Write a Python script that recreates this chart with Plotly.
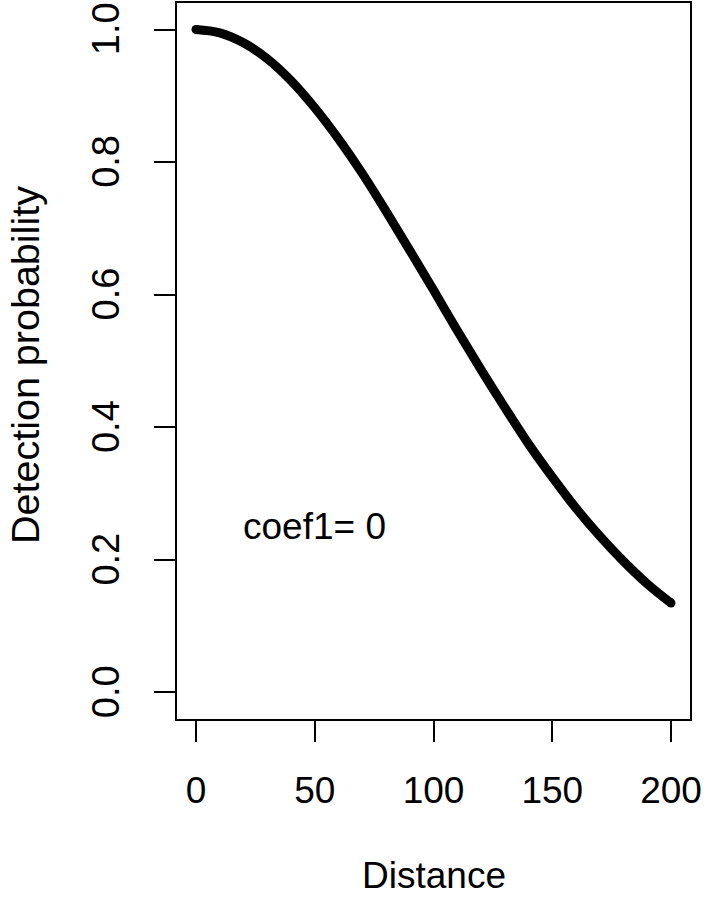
import plotly.graph_objects as go

distance = [0, 10, 20, 30, 40, 50, 60, 70, 80, 90, 100,
            110, 120, 130, 140, 150, 160, 170, 180, 190, 200]
detection = [1.000, 0.995, 0.980, 0.956, 0.923, 0.882, 0.835, 0.783, 0.726, 0.667, 0.607,
             0.546, 0.487, 0.430, 0.375, 0.325, 0.278, 0.236, 0.198, 0.164, 0.135]
x_ticks = [0, 50, 100, 150, 200]
y_ticks = [0.0, 0.2, 0.4, 0.6, 0.8, 1.0]
y_tick_labels = ["0.0", "0.2", "0.4", "0.6", "0.8", "1.0"]
label_text = "coef1= 0"
label_pos = (50, 0.25)

FONT = "Liberation Sans, Arial, sans-serif"
FS = 37
FS_VT = 38
FS_V = 39.5

fig = go.Figure()
fig.add_trace(go.Scatter(
    x=distance, y=detection, mode="lines",
    line=dict(color="black", width=9, shape="spline"),
    showlegend=False, hoverinfo="skip"))
fig.add_trace(go.Scatter(
    x=[distance[0], distance[-1]], y=[detection[0], detection[-1]], mode="markers",
    marker=dict(color="black", size=9), showlegend=False, hoverinfo="skip"))

fig.add_annotation(x=label_pos[0], y=label_pos[1], text=label_text, showarrow=False,
                   font=dict(family=FONT, size=FS, color="black"),
                   xanchor="center", yanchor="middle")
fig.add_annotation(xref="paper", yref="paper", x=0.5, y=0, text="Distance",
                   showarrow=False, font=dict(family=FONT, size=FS, color="black"),
                   xanchor="center", yanchor="middle", yshift=-156)
fig.add_annotation(xref="paper", yref="paper", x=0, y=0.5, text="Detection probability",
                   showarrow=False, textangle=-90,
                   font=dict(family=FONT, size=FS_V, color="black"),
                   xanchor="center", yanchor="middle", xshift=-152, yshift=-4)

axis_common = dict(showgrid=False, zeroline=False, showline=True, linecolor="black",
                   linewidth=2, mirror=True, ticks="outside", ticklen=21, tickwidth=2,
                   tickcolor="black", ticklabeloverflow="allow", automargin=False)
fig.update_xaxes(range=[-8, 208], tickvals=x_ticks, ticktext=[str(v) for v in x_ticks],
                 ticklabelstandoff=17, tickfont=dict(family=FONT, size=FS, color="black"),
                 **axis_common)
fig.update_yaxes(range=[-0.04, 1.04], tickvals=y_ticks, ticktext=y_tick_labels,
                 tickangle=-90, ticklabelstandoff=20, ticklabelshift=5,
                 tickfont=dict(family=FONT, size=FS_VT, color="black"), **axis_common)

fig.update_layout(
    width=706, height=897,
    margin=dict(l=177, r=16, t=3, b=178),
    plot_bgcolor="white", paper_bgcolor="white",
    font=dict(family=FONT, size=FS, color="black"))

fig.write_html("out.html", config={"displayModeBar": False},
               post_script="document.body.style.margin='0';document.body.style.padding='0';")
